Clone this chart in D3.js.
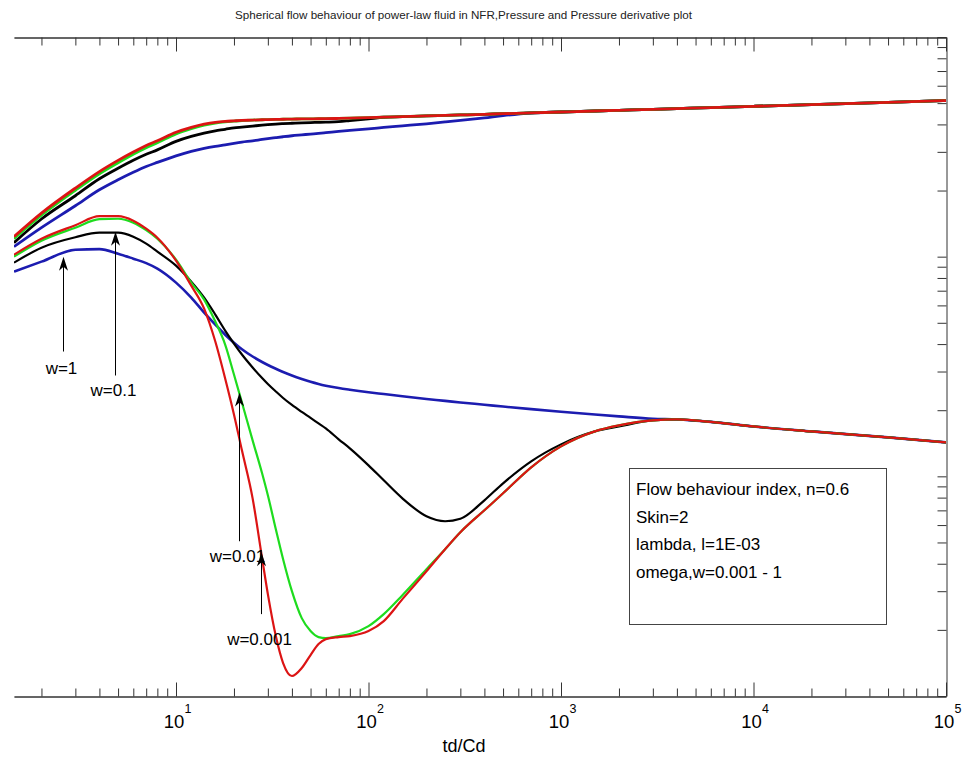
<!DOCTYPE html>
<html>
<head>
<meta charset="utf-8">
<script src="https://cdn.jsdelivr.net/npm/d3@7"></script>
<style>
  html, body { margin: 0; padding: 0; background: #ffffff; }
  svg { display: block; font-family: "Liberation Sans", Arial, Helvetica, sans-serif; }
</style>
</head>
<body>
<svg id="chart" width="979" height="765"></svg>
<script>
// Dimensionless time td/Cd shared by all curves
const time = [1.44, 2, 3, 4, 5, 6, 7, 8, 10, 12, 14, 16, 18, 20, 22, 25, 28, 30, 33, 36, 40, 45, 50, 55, 60, 70, 80,
  100, 120, 150, 200, 250, 300, 400, 500, 700, 1000, 1500, 2000, 3000, 4000, 6000, 10000, 20000, 50000, 100000];

// Dimensionless pressure, one array per storativity ratio omega
const pressureW1 = [1.11, 1.355, 1.705, 2.016, 2.239, 2.422, 2.573, 2.688, 2.878, 3.017, 3.113, 3.179, 3.229, 3.28,
  3.322, 3.367, 3.417, 3.446, 3.482, 3.515, 3.552, 3.585, 3.615, 3.642, 3.668, 3.719, 3.758, 3.818, 3.874, 3.94,
  4.027, 4.104, 4.169, 4.284, 4.389, 4.509, 4.556, 4.605, 4.639, 4.687, 4.722, 4.772, 4.836, 4.924, 5.043, 5.135];
const pressureW01 = [1.158, 1.484, 1.894, 2.262, 2.525, 2.746, 2.924, 3.064, 3.35, 3.529, 3.65, 3.739, 3.798, 3.858,
  3.89, 3.931, 3.968, 3.989, 4.014, 4.032, 4.049, 4.066, 4.079, 4.087, 4.096, 4.117, 4.161, 4.24, 4.311, 4.338,
  4.37, 4.398, 4.416, 4.448, 4.476, 4.513, 4.556, 4.605, 4.639, 4.687, 4.722, 4.772, 4.836, 4.924, 5.043, 5.135];
const pressureW001 = [1.207, 1.544, 2.006, 2.384, 2.675, 2.924, 3.13, 3.298, 3.623, 3.825, 3.968, 4.057, 4.108, 4.138,
  4.164, 4.186, 4.20, 4.208, 4.217, 4.222, 4.231, 4.235, 4.24, 4.244, 4.249, 4.257, 4.271, 4.292, 4.315, 4.338,
  4.37, 4.398, 4.416, 4.448, 4.476, 4.513, 4.556, 4.605, 4.639, 4.687, 4.722, 4.772, 4.836, 4.924, 5.043, 5.135];
const pressureW0001 = [1.233, 1.578, 2.052, 2.44, 2.743, 2.995, 3.205, 3.368, 3.684, 3.878, 4.01, 4.09, 4.13, 4.151,
  4.169, 4.186, 4.20, 4.208, 4.217, 4.222, 4.231, 4.235, 4.24, 4.244, 4.249, 4.257, 4.271, 4.292, 4.315, 4.338,
  4.37, 4.398, 4.416, 4.448, 4.476, 4.513, 4.556, 4.605, 4.639, 4.687, 4.722, 4.772, 4.836, 4.924, 5.043, 5.135];

// Pressure derivative, one array per omega
const derivW1 = [0.8548, 0.9491, 1.076, 1.082, 1.032, 0.9793, 0.9342, 0.882, 0.7617, 0.651, 0.5564, 0.4909, 0.4411,
  0.4057, 0.3787, 0.3511, 0.3315, 0.3212, 0.3087, 0.2985, 0.2877, 0.2774, 0.2694, 0.2633, 0.2586, 0.2522, 0.2478,
  0.2414, 0.2369, 0.2315, 0.2251, 0.2206, 0.2169, 0.2118, 0.2078, 0.2022, 0.1968, 0.1911, 0.1874, 0.1827, 0.1815,
  0.1769, 0.1687, 0.1602, 0.1504, 0.1427];
const derivW01 = [0.9391, 1.099, 1.226, 1.286, 1.286, 1.233, 1.146, 1.054, 0.9101, 0.7697, 0.651, 0.545, 0.461,
  0.4022, 0.3585, 0.313, 0.2803, 0.2633, 0.2434, 0.2273, 0.2113, 0.1964, 0.1845, 0.1741, 0.1652, 0.1474, 0.1341,
  0.1122, 0.0959, 0.0794, 0.0658, 0.06244, 0.06408, 0.07779, 0.09294, 0.117, 0.1398, 0.1602, 0.1687, 0.1797,
  0.1815, 0.1769, 0.1687, 0.1602, 0.1504, 0.1427];
const derivW001 = [1.0, 1.182, 1.355, 1.481, 1.488, 1.428, 1.32, 1.207, 0.9692, 0.7617, 0.6376, 0.5064, 0.3981,
  0.2908, 0.2169, 0.1458, 0.1032, 0.08195, 0.05741, 0.04195, 0.03001, 0.02262, 0.01975, 0.01854, 0.01835, 0.01874,
  0.01913, 0.0208, 0.02359, 0.02877, 0.03779, 0.04658, 0.05564, 0.07007, 0.08371, 0.1099, 0.1369, 0.1602, 0.1705,
  0.1797, 0.1815, 0.1769, 0.1687, 0.1602, 0.1504, 0.1427];
const derivW0001 = [1.021, 1.207, 1.391, 1.528, 1.528, 1.458, 1.341, 1.22, 0.959, 0.738, 0.58, 0.4108, 0.279, 0.1913,
  0.1313, 0.0794, 0.0424, 0.0291, 0.01874, 0.01413, 0.01233, 0.01341, 0.01536, 0.01723, 0.01816, 0.01854, 0.01874,
  0.01975, 0.02193, 0.0276, 0.037, 0.04658, 0.05564, 0.07007, 0.08371, 0.1099, 0.1369, 0.1602, 0.1705, 0.1797,
  0.1815, 0.1769, 0.1687, 0.1602, 0.1504, 0.1427];

// Arrow annotations naming each omega curve
const noteLabels = ["w=1", "w=0.1", "w=0.01", "w=0.001"];
const noteTime = [2.588, 4.822, 21.25, 27.64];
const noteTip = [1.0, 1.299, 0.2409, 0.04513];
const noteTail = [0.37, 0.2878, 0.05064, 0.02359];
const noteText = [0.2908, 0.231, 0.04065, 0.01705];

// Parameter box
const infoLines = ["Flow behaviour index, n=0.6", "Skin=2", "lambda, l=1E-03", "omega,w=0.001 - 1"];

const titleText = "Spherical flow behaviour of power-law fluid in NFR,Pressure and Pressure derivative plot";
const xTitle = "td/Cd";

const series = [
  { color: "#1c1cb0", p: pressureW1, d: derivW1, dw: 2.6 },
  { color: "#000000", p: pressureW01, d: derivW01, dw: 2.2 },
  { color: "#1edc1e", p: pressureW001, d: derivW001, dw: 2.2 },
  { color: "#dc1414", p: pressureW0001, d: derivW0001, dw: 2.2 }
];

const svg = d3.select("#chart");
const plotLeft = 14, plotRight = 946, plotTop = 37, plotBottom = 696;

const x = d3.scaleLog().domain([1.44, 1e5]).range([plotLeft, plotRight]);
const y = d3.scaleLog().domain([0.01, 10]).range([plotBottom, plotTop]);

// clip region for the curves
svg.append("defs").append("clipPath").attr("id", "plotClip")
  .append("rect").attr("x", plotLeft).attr("y", plotTop)
  .attr("width", plotRight - plotLeft).attr("height", plotBottom - plotTop);

// tick values
const xMajor = [10, 100, 1000, 10000, 100000];
const xMinor = [];
for (let e = 0; e <= 4; e++) for (let k = 2; k <= 9; k++) {
  const v = k * Math.pow(10, e);
  if (v >= 1.44 && v <= 1e5) xMinor.push(v);
}
const yTicks = [];
for (let e = -2; e <= 0; e++) for (let k = 1; k <= 9; k++) yTicks.push(k * Math.pow(10, e));
yTicks.push(10);

// title
svg.append("text").attr("x", 463.5).attr("y", 19).attr("text-anchor", "middle")
  .attr("font-size", 11.5).attr("fill", "#222")
  .attr("textLength", 457).attr("lengthAdjust", "spacingAndGlyphs").text(titleText);

// axes
const axisColor = "#333";
function styleAxis(g) { g.attr("color", axisColor).select(".domain").attr("stroke-width", 1); }

svg.append("g").attr("transform", `translate(0,${plotBottom + 0.5})`)
  .call(d3.axisBottom(x).tickValues(xMinor).tickSize(-8).tickSizeOuter(0).tickFormat(() => "")).call(styleAxis);
svg.append("g").attr("transform", `translate(0,${plotBottom + 0.5})`)
  .call(d3.axisBottom(x).tickValues(xMajor).tickSize(-14).tickSizeOuter(0).tickFormat(() => "")).call(styleAxis);
svg.append("g").attr("transform", `translate(0,${plotTop + 0.5})`)
  .call(d3.axisTop(x).tickValues(xMinor).tickSize(-8).tickSizeOuter(0).tickFormat(() => "")).call(styleAxis);
svg.append("g").attr("transform", `translate(0,${plotTop + 0.5})`)
  .call(d3.axisTop(x).tickValues(xMajor).tickSize(-14).tickSizeOuter(0).tickFormat(() => "")).call(styleAxis);
svg.append("g").attr("transform", `translate(${plotRight + 0.5},0)`)
  .call(d3.axisRight(y).tickValues(yTicks).tickSize(-9).tickSizeOuter(0).tickFormat(() => "")).call(styleAxis);

// x tick labels as powers of ten
const xLab = svg.append("g").attr("fill", "#000");
xMajor.forEach(v => {
  const px = x(v);
  xLab.append("text").attr("x", px - 2).attr("y", 728).attr("text-anchor", "middle")
    .attr("font-size", 18.5).text("10");
  xLab.append("text").attr("x", px + 8.5).attr("y", 713).attr("text-anchor", "start")
    .attr("font-size", 12.5).text(String(Math.round(Math.log10(v))));
});
svg.append("text").attr("x", 464).attr("y", 752).attr("text-anchor", "middle")
  .attr("font-size", 18).attr("fill", "#000").text(xTitle);

// curves
const plot = svg.append("g").attr("clip-path", "url(#plotClip)");
const line = vals => d3.line()
  .x((d, i) => x(time[i]))
  .y(d => y(d))
  .curve(d3.curveMonotoneX)(vals);

series.forEach(s => {
  plot.append("path").attr("d", line(s.p)).attr("fill", "none")
    .attr("stroke", s.color).attr("stroke-width", 2.8).attr("stroke-linejoin", "round");
});
series.forEach(s => {
  plot.append("path").attr("d", line(s.d)).attr("fill", "none")
    .attr("stroke", s.color).attr("stroke-width", s.dw).attr("stroke-linejoin", "round");
});

// arrows with labels
const notes = svg.append("g");
noteLabels.forEach((lab, i) => {
  const ax = Math.round(x(noteTime[i])) + 0.5;
  const yTip = y(noteTip[i]);
  const yTail = y(noteTail[i]);
  notes.append("line").attr("x1", ax).attr("x2", ax).attr("y1", yTail).attr("y2", yTip + 8)
    .attr("stroke", "#000").attr("stroke-width", 1);
  notes.append("path")
    .attr("d", `M${ax},${yTip} L${ax + 4.5},${yTip + 14} L${ax},${yTip + 10} L${ax - 4.5},${yTip + 14} Z`)
    .attr("fill", "#000");
  notes.append("text").attr("x", ax - 2).attr("y", y(noteText[i])).attr("text-anchor", "middle")
    .attr("font-size", 17).attr("fill", "#000").text(lab);
});

// parameter box
const box = svg.append("g");
box.append("rect").attr("x", 629.5).attr("y", 468.5).attr("width", 257).attr("height", 156)
  .attr("fill", "#fff").attr("stroke", "#444").attr("stroke-width", 1);
infoLines.forEach((t, i) => {
  box.append("text").attr("x", 636).attr("y", 495 + i * 27.7).attr("font-size", 17)
    .attr("fill", "#000").text(t);
});
</script>
</body>
</html>
